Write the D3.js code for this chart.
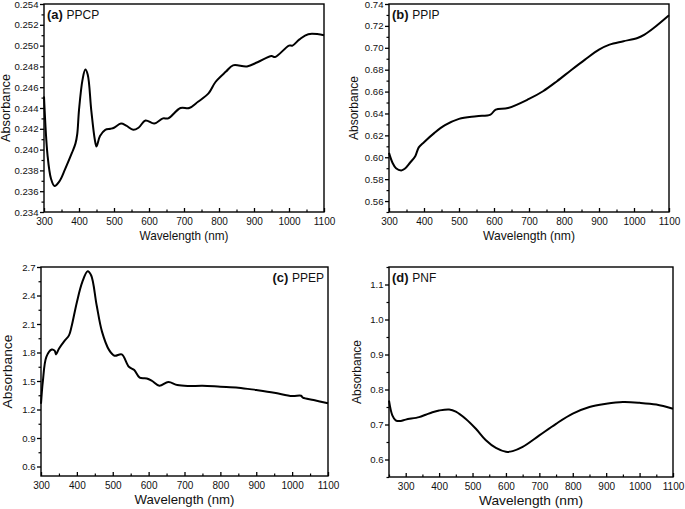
<!DOCTYPE html>
<html>
<head>
<meta charset="utf-8">
<script src="https://cdn.jsdelivr.net/npm/d3@7/dist/d3.min.js"></script>
<style>
  body { margin: 0; background: #fff; }
  text { font-family: "Liberation Sans", Arial, sans-serif; fill: #111; }
</style>
</head>
<body>
<div id="chart"></div>
<script>
// wavelength (nm) / absorbance
const wlA = [300, 310, 320, 330, 345, 360, 380, 390, 395, 400, 410, 418, 425, 435, 445, 450, 460, 475, 490, 500, 520, 535, 555, 570, 590, 615, 640, 655, 690, 715, 740, 770, 790, 820, 840, 880, 910, 950, 960, 1000, 1010, 1030, 1055, 1100];
const absA = [0.2451, 0.2395, 0.2372, 0.2365, 0.2370, 0.2381, 0.2397, 0.2406, 0.2415, 0.2438, 0.2467, 0.2477, 0.2472, 0.2438, 0.2410, 0.2403, 0.2413, 0.2419, 0.2420, 0.2421, 0.2425, 0.2423, 0.2419, 0.2421, 0.2428, 0.2425, 0.2430, 0.2430, 0.2440, 0.2440, 0.2446, 0.2454, 0.2465, 0.2475, 0.2481, 0.2480, 0.2484, 0.2490, 0.2489, 0.2500, 0.2500, 0.2506, 0.2511, 0.2510];

const wlB = [300, 310, 320, 335, 345, 360, 375, 385, 400, 430, 460, 500, 550, 590, 605, 640, 700, 740, 780, 820, 860, 900, 930, 970, 1010, 1030, 1060, 1100];
const absB = [0.604, 0.595, 0.590, 0.588, 0.5895, 0.595, 0.601, 0.609, 0.6138, 0.6223, 0.6293, 0.6351, 0.6375, 0.639, 0.6436, 0.645, 0.6533, 0.6603, 0.6695, 0.6795, 0.6892, 0.6983, 0.7029, 0.706, 0.709, 0.712, 0.719, 0.7297];

const wlC = [300, 305, 315, 330, 338, 342, 350, 365, 378, 385, 400, 415, 430, 440, 455, 470, 490, 505, 525, 545, 560, 575, 595, 610, 630, 655, 680, 710, 750, 800, 850, 900, 950, 1000, 1025, 1030, 1060, 1100];
const absC = [1.26, 1.49, 1.755, 1.832, 1.82, 1.78, 1.84, 1.92, 1.98, 2.07, 2.33, 2.54, 2.655, 2.61, 2.30, 2.02, 1.825, 1.766, 1.78, 1.65, 1.615, 1.535, 1.527, 1.50, 1.45, 1.49, 1.457, 1.447, 1.45, 1.44, 1.43, 1.405, 1.377, 1.342, 1.345, 1.325, 1.30, 1.265];

const wlD = [250, 260, 270, 285, 300, 340, 360, 380, 400, 430, 450, 480, 510, 540, 570, 600, 620, 650, 700, 750, 800, 850, 900, 950, 1000, 1050, 1100];
const absD = [0.768, 0.726, 0.712, 0.710, 0.714, 0.721, 0.728, 0.735, 0.740, 0.743, 0.737, 0.716, 0.688, 0.655, 0.633, 0.622, 0.624, 0.636, 0.669, 0.702, 0.731, 0.750, 0.759, 0.764, 0.762, 0.757, 0.745];

const xTicks = [300, 400, 500, 600, 700, 800, 900, 1000, 1100];
const yTicksA = [0.234, 0.236, 0.238, 0.240, 0.242, 0.244, 0.246, 0.248, 0.250, 0.252, 0.254];
const yTicksB = [0.56, 0.58, 0.60, 0.62, 0.64, 0.66, 0.68, 0.70, 0.72, 0.74];
const yTicksC = [0.6, 0.9, 1.2, 1.5, 1.8, 2.1, 2.4, 2.7];
const yTicksD = [0.6, 0.7, 0.8, 0.9, 1.0, 1.1];

// layout per panel: frame box, title baseline positions and lengths
const panels = [
  { tag: '(a)', name: 'PPCP', wl: wlA, abs: absA, xDom: [300, 1100], yDom: [0.234, 0.254], yTicks: yTicksA, yStep: 0.002, fmt: '.3f',
    box: { l: 44, t: 4, r: 324, b: 212 }, labelRight: false, yTitleX: 10, xTitleLen: 89, yTitleLen: 68 },
  { tag: '(b)', name: 'PPIP', wl: wlB, abs: absB, xDom: [300, 1100], yDom: [0.55, 0.74], yTicks: yTicksB, yStep: 0.02, fmt: '.2f',
    box: { l: 389, t: 4, r: 669, b: 212 }, labelRight: false, yTitleX: 358, xTitleLen: 92, yTitleLen: 64 },
  { tag: '(c)', name: 'PPEP', wl: wlC, abs: absC, xDom: [300, 1100], yDom: [0.5, 2.7], yTicks: yTicksC, yStep: 0.3, fmt: '.1f',
    box: { l: 41, t: 267, r: 328, b: 476 }, labelRight: true, yTitleX: 12, xTitleLen: 100, yTitleLen: 74 },
  { tag: '(d)', name: 'PNF', wl: wlD, abs: absD, xDom: [250, 1100], yDom: [0.55, 1.15], yTicks: yTicksD, yStep: 0.1, fmt: '.1f',
    box: { l: 389, t: 267, r: 673, b: 477 }, labelRight: false, yTitleX: 361, xTitleLen: 104, yTitleLen: 64 }
];

const svg = d3.select('#chart')
  .append('svg')
  .attr('width', 685)
  .attr('height', 509);

panels.forEach(p => {
  const bx = p.box;
  const x = d3.scaleLinear().domain(p.xDom).range([bx.l, bx.r]);
  const y = d3.scaleLinear().domain(p.yDom).range([bx.b, bx.t]);
  const g = svg.append('g');

  // minor ticks halfway between majors
  const xMinor = d3.range(p.xDom[0], p.xDom[1] + 1, 50).filter(v => !xTicks.includes(v));
  const yMinor = [];
  for (let v = p.yTicks[0] - p.yStep / 2; v <= p.yDom[1] + 1e-9; v += p.yStep) {
    if (v >= p.yDom[0] - 1e-9) yMinor.push(v);
  }

  // bottom axis, ticks inward
  const xAxis = g.append('g')
    .attr('transform', `translate(0,${bx.b})`)
    .call(d3.axisBottom(x).tickValues(xTicks).tickSize(-4).tickPadding(6).tickFormat(d3.format('d')));
  xAxis.select('.domain').remove();
  xAxis.selectAll('.tick line').attr('stroke', '#000').attr('stroke-width', 1.3);
  xAxis.selectAll('.tick text').attr('font-size', 10).attr('font-family', '"Liberation Sans", Arial, sans-serif');
  g.append('g')
    .attr('transform', `translate(0,${bx.b})`)
    .call(d3.axisBottom(x).tickValues(xMinor).tickSize(-2.5).tickFormat(''))
    .call(a => a.select('.domain').remove())
    .selectAll('.tick line').attr('stroke', '#000').attr('stroke-width', 1.2);

  // left axis, ticks outward
  const yAxis = g.append('g')
    .attr('transform', `translate(${bx.l},0)`)
    .call(d3.axisLeft(y).tickValues(p.yTicks).tickSize(4).tickPadding(1.5).tickFormat(d3.format(p.fmt)));
  yAxis.select('.domain').remove();
  yAxis.selectAll('.tick line').attr('stroke', '#000').attr('stroke-width', 1.3);
  yAxis.selectAll('.tick text').attr('font-size', 9.6).attr('font-family', '"Liberation Sans", Arial, sans-serif');
  g.append('g')
    .attr('transform', `translate(${bx.l},0)`)
    .call(d3.axisLeft(y).tickValues(yMinor).tickSize(2.5).tickFormat(''))
    .call(a => a.select('.domain').remove())
    .selectAll('.tick line').attr('stroke', '#000').attr('stroke-width', 1.2);

  // frame
  g.append('rect')
    .attr('x', bx.l).attr('y', bx.t)
    .attr('width', bx.r - bx.l).attr('height', bx.b - bx.t)
    .attr('fill', 'none').attr('stroke', '#000').attr('stroke-width', 1.4);

  // spectrum
  const pts = p.wl.map((w, i) => [w, p.abs[i]]);
  g.append('path')
    .datum(pts)
    .attr('fill', 'none')
    .attr('stroke', '#000')
    .attr('stroke-width', 2)
    .attr('stroke-linejoin', 'round')
    .attr('d', d3.line().x(d => x(d[0])).y(d => y(d[1])).curve(d3.curveCatmullRom.alpha(0.5)));

  // panel label
  const lab = g.append('text')
    .attr('y', bx.t + 15)
    .attr('font-size', 12);
  lab.append('tspan').attr('font-weight', 'bold').attr('font-size', 13).text(p.tag + ' ');
  lab.append('tspan').text(p.name);
  if (p.labelRight) {
    lab.attr('x', bx.r - 4).attr('text-anchor', 'end');
  } else {
    lab.attr('x', bx.l + 3);
  }

  // axis titles
  g.append('text')
    .attr('x', (bx.l + bx.r) / 2)
    .attr('y', bx.b + 28)
    .attr('text-anchor', 'middle')
    .attr('font-size', 13)
    .attr('textLength', p.xTitleLen)
    .attr('lengthAdjust', 'spacingAndGlyphs')
    .text('Wavelength (nm)');

  g.append('text')
    .attr('transform', `translate(${p.yTitleX},${(bx.t + bx.b) / 2}) rotate(-90)`)
    .attr('text-anchor', 'middle')
    .attr('font-size', 12.5)
    .attr('textLength', p.yTitleLen)
    .attr('lengthAdjust', 'spacingAndGlyphs')
    .text('Absorbance');
});
</script>
</body>
</html>
